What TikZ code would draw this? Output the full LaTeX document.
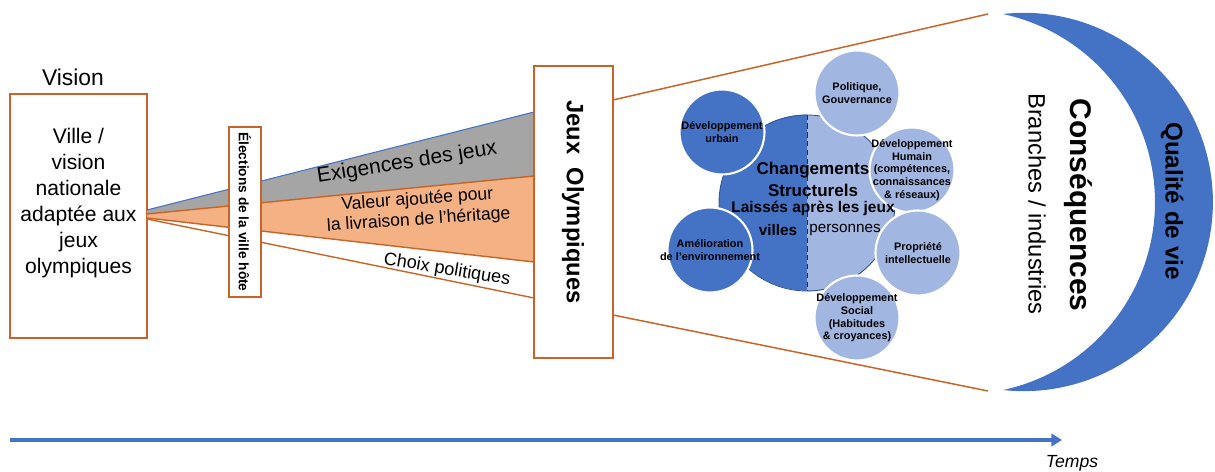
\documentclass[tikz,border=0pt]{standalone}
\usepackage{fontspec}
\setmainfont{Liberation Sans}
\usetikzlibrary{positioning,arrows.meta}

\definecolor{rust}{RGB}{200,100,40}
\definecolor{peach}{RGB}{244,177,131}
\definecolor{midgray}{RGB}{165,165,165}
\definecolor{oblue}{RGB}{68,114,196}
\definecolor{lblue}{RGB}{162,182,226}

\tikzset{
  obox/.style={draw=rust, line width=0.85pt, fill=white},
  bubble/.style={circle, draw=white, line width=1.2pt, minimum size=1.7cm, inner sep=0pt},
  darkbubble/.style={bubble, fill=oblue},
  lightbubble/.style={bubble, fill=lblue},
  bubbletext/.style={align=center, inner sep=0pt, font=\fontsize{6.2}{7.2}\selectfont\bfseries},
}

\begin{document}
\begin{tikzpicture}[x=0.02cm, y=-0.02cm]
\useasboundingbox (0,0) rectangle (1215,472);

% vision
\node[obox, minimum width=2.74cm, minimum height=4.88cm] (ville) at (78.5,216) {};
\node[align=center, font=\fontsize{12}{14.7}\selectfont] (villetxt) at (78.5,203) {Ville /\\vision\\nationale\\adaptée aux\\jeux\\olympiques};
\node[font=\fontsize{13}{15}\selectfont] (vision) at (73,77) {Vision};

% fan
\coordinate (o1) at (147,210);
\coordinate (o2) at (147,214);
\coordinate (o3) at (147,218);
\coordinate (o4) at (147,219);
\coordinate (j1) at (534,112);
\coordinate (j2) at (534,176);
\coordinate (j3) at (534,262);
\coordinate (j4) at (534,298);
\fill[midgray] (o1) -- (j1) -- (j2) -- (o2) -- cycle;
\fill[peach] (o2) -- (j2) -- (j3) -- (o3) -- cycle;
\draw[oblue, line width=0.6pt] (o1) -- (j1);
\draw[rust, line width=0.8pt] (o2) -- (j2);
\draw[rust, line width=0.8pt] (o3) -- (j3);
\draw[rust, line width=0.8pt] (o4) -- (j4);

\node[rotate=9, font=\fontsize{12}{14}\selectfont] (exig) at (407,163) {Exigences des jeux};
\node[rotate=4, align=center, font=\fontsize{10}{11.6}\selectfont] (valeur) at (418,210) {Valeur ajoutée pour\\la livraison de l’héritage};
\node[rotate=-9.5, font=\fontsize{10.3}{12}\selectfont] (choix) at (447,270) {Choix politiques};

\node[obox, rotate=-90, minimum width=3.4cm, minimum height=0.64cm, inner sep=0pt,
  font=\fontsize{7.8}{9}\selectfont\bfseries] (elect) at (245,212) {Élections de la ville hôte};

% jeux
\node[obox, minimum width=1.58cm, minimum height=5.84cm] (jo) at (573.5,212) {};
\node[rotate=-90, font=\fontsize{13.5}{16}\selectfont\bfseries] (jotext) at (573,202) {Jeux\ \ Olympiques};

\coordinate (jtop) at (613,100);
\coordinate (jbot) at (613,315);
\coordinate (ctop) at (988,14);
\coordinate (cbot) at (988,391);
\draw[rust, line width=0.85pt] (jtop) -- (ctop);
\draw[rust, line width=0.85pt] (jbot) -- (cbot);

% crescent
\fill[oblue] (1003,14) arc[start angle=96.3, end angle=-96.3, radius=3.784cm]
  arc[start angle=-77.9, end angle=77.9, radius=3.846cm] -- cycle;
\node[rotate=-90, font=\fontsize{13.8}{16}\selectfont\bfseries] (qualite) at (1172,201) {Qualité de vie};
\node[rotate=-90, font=\fontsize{17}{20}\selectfont\bfseries] (conseq) at (1078,205) {Conséquences};
\node[rotate=-90, font=\fontsize{13.5}{16}\selectfont] (branches) at (1037,204) {Branches / industries};

% changes
\node[circle, minimum size=3.52cm, inner sep=0pt] (cc) at (807,203) {};
\fill[oblue] (cc.north) arc[start angle=90, end angle=270, radius=1.76cm] -- cycle;
\fill[lblue] (cc.south) arc[start angle=-90, end angle=90, radius=1.76cm] -- cycle;
\draw[oblue!75!black, line width=0.5pt] (cc) circle[radius=1.76cm];
\draw[densely dashed, oblue!40!black, line width=0.5pt] (cc.north) -- (cc.south);

\node[darkbubble, label={[bubbletext]center:{Développement\\urbain}}] (urb) at (722,132) {};
\node[darkbubble, label={[bubbletext]center:{Amélioration\\de l’environnement}}] (env) at (710,250) {};
\node[lightbubble, label={[bubbletext]center:{Politique,\\Gouvernance}}] (pol) at (857,93) {};
\node[lightbubble, label={[bubbletext]center:{Développement\\Humain\\(compétences,\\connaissances\\\& réseaux)}}] (hum) at (912,170) {};
\node[lightbubble, label={[bubbletext]center:{Propriété\\intellectuelle}}] (prop) at (918,253) {};
\node[lightbubble, label={[bubbletext]center:{Développement\\Social\\(Habitudes\\\& croyances)}}] (soc) at (857,318) {};

\node[align=center, font=\fontsize{9.7}{12.5}\selectfont\bfseries] (chg) at (813,179) {Changements\\Structurels};
\node[font=\fontsize{8.8}{10}\selectfont\bfseries] (laisse) at (813,208) {Laissés après les jeux};
\node[font=\fontsize{8.7}{10}\selectfont\bfseries] (villes) at (778,230) {villes};
\node[font=\fontsize{8.7}{10}\selectfont] (pers) at (845,230) {personnes};

% time
\coordinate (t0) at (10,440);
\coordinate (t1) at (1062,440);
\draw[oblue, line width=1.8pt, -{Triangle[length=6pt, width=7pt]}] (t0) -- (t1);
\node[font=\fontsize{10}{12}\selectfont\itshape] (temps) at (1072,463) {Temps};

\end{tikzpicture}
\end{document}
